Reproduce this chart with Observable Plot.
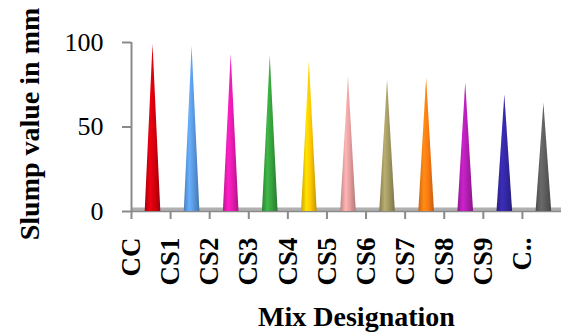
<!DOCTYPE html>
<html>
<head>
<meta charset="utf-8">
<script src="https://cdn.jsdelivr.net/npm/d3@7"></script>
<script src="https://cdn.jsdelivr.net/npm/@observablehq/plot@0.6"></script>
<style>
  html, body { margin: 0; padding: 0; background: #fff; }
</style>
</head>
<body>
<div id="chart"></div>
<script>
const categories = ["CC", "CS1", "CS2", "CS3", "CS4", "CS5", "CS6", "CS7", "CS8", "CS9", "C.."];
const slump = [99, 98, 93, 92, 89, 80, 78, 79, 76, 69, 64];
const yTicks = [0, 50, 100];
const coneColors = ["#d4000e", "#5b9be2", "#e61cb0", "#37a23e", "#ffc800", "#e9a0a0", "#a39a62", "#ff7c12", "#b41eb4", "#3428a4", "#5e5e5e"];

// build cone outlines (base-left, apex, base-right) for each category
const cones = categories.flatMap((c, i) => [
  {cat: c, x: i + 0.55 - 0.2, y: 0},
  {cat: c, x: i + 0.55, y: slump[i]},
  {cat: c, x: i + 0.55 + 0.2, y: 0}
]);

const plot = Plot.plot({
  width: 564,
  height: 335,
  marginLeft: 131,
  marginRight: 3,
  marginTop: 42,
  marginBottom: 124,
  style: {fontFamily: "Liberation Serif", background: "#fff"},
  x: {domain: [0, categories.length], label: null},
  y: {domain: [0, 100], label: null},
  color: {domain: categories, range: categories.map((c, i) => `url(#cone${i})`)},
  marks: [
    Plot.ruleY([0], {x1: 0, x2: categories.length, stroke: "#b0b0b0", strokeWidth: 4, dy: -2}),
    Plot.ruleY([0], {x1: 0, x2: categories.length, stroke: "#8a8a8a", strokeWidth: 1.5}),
    Plot.ruleX([0], {y1: 0, y2: 100, stroke: "#8a8a8a", strokeWidth: 2}),
    Plot.axisY({ticks: yTicks, tickSize: 9, tickPadding: 19, fontSize: 26, stroke: "#8a8a8a", strokeWidth: 2, fill: "#000", label: null}),
    Plot.axisX({ticks: d3.range(categories.length), tickFormat: i => categories[i], tickRotate: -90, tickSize: 8, tickPadding: 18, fontSize: 27, fontWeight: "bold", stroke: "#8a8a8a", strokeWidth: 2, fill: "#000", label: null}),
    Plot.areaY(cones, {x: "x", y: "y", z: "cat", fill: "cat"}),
    Plot.text(["Slump value in mm"], {frameAnchor: "left", textAnchor: "middle", rotate: -90, dx: -101, dy: -3, fontSize: 28, fontWeight: "bold", fill: "#000"}),
    Plot.text(["Mix Designation"], {frameAnchor: "bottom", dy: 114, dx: 10, fontSize: 28, fontWeight: "bold", fill: "#000"})
  ]
});

// cone shading gradients
const ns = "http://www.w3.org/2000/svg";
const defs = document.createElementNS(ns, "defs");
coneColors.forEach((col, i) => {
  const base = d3.color(col);
  const g = document.createElementNS(ns, "linearGradient");
  g.setAttribute("id", `cone${i}`);
  g.setAttribute("x1", "0"); g.setAttribute("x2", "1");
  g.setAttribute("y1", "0"); g.setAttribute("y2", "0");
  [[0, base.darker(0.6)], [0.35, base.brighter(0.35)], [0.6, base], [1, base.darker(0.8)]].forEach(([o, c]) => {
    const s = document.createElementNS(ns, "stop");
    s.setAttribute("offset", o);
    s.setAttribute("stop-color", c.formatHex());
    g.appendChild(s);
  });
  defs.appendChild(g);
});
plot.insertBefore(defs, plot.firstChild);
document.getElementById("chart").appendChild(plot);
</script>
</body>
</html>
